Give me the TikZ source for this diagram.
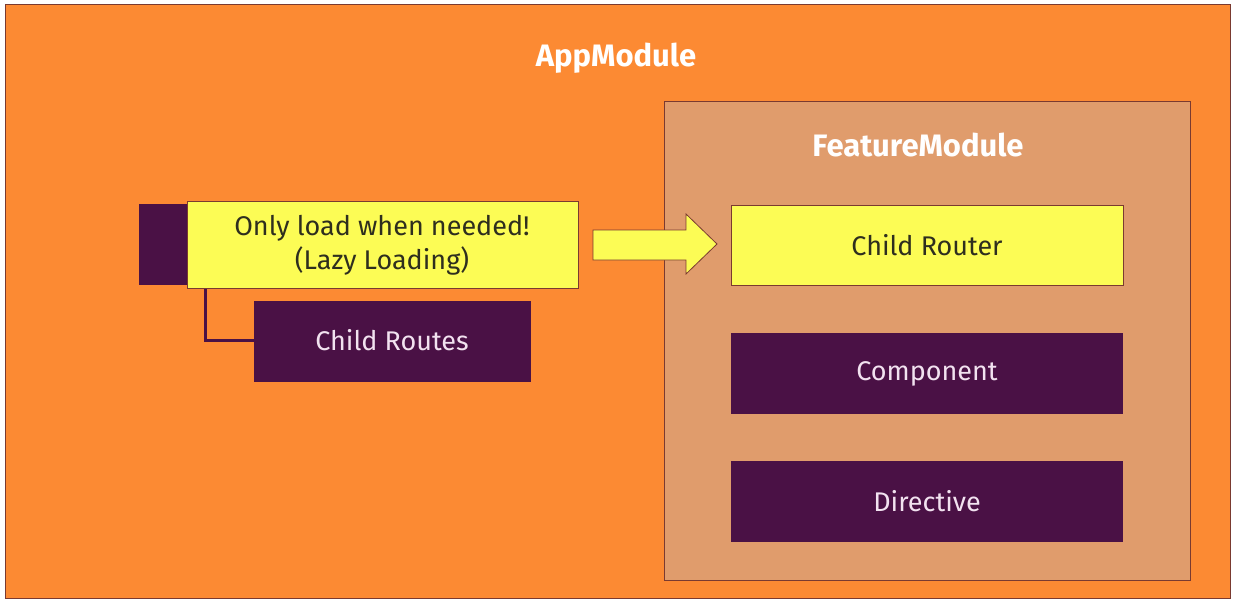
\documentclass[tikz,border=0pt]{standalone}
\usepackage{fontspec}
\setmainfont{Fira Sans}
\definecolor{appor}{HTML}{FC8A33}
\definecolor{featbg}{HTML}{E09C6C}
\definecolor{purp}{HTML}{4A1145}
\definecolor{yel}{HTML}{FCFC55}
\definecolor{edge}{HTML}{7A3A30}
\definecolor{ytext}{HTML}{2E2E1E}
\definecolor{ptext}{HTML}{F2E2F0}
\tikzset{
  pbox/.style={fill=purp, draw=none},
  ybox/.style={fill=yel, draw=edge, line width=0.8pt},
  ptxt/.style={text=ptext, font=\fontsize{27}{34}\selectfont},
  ytxt/.style={text=ytext, font=\fontsize{27}{34}\selectfont},
  title/.style={text=white, font=\bfseries\fontsize{31}{36}\selectfont},
}
\begin{document}
\begin{tikzpicture}[x=1pt,y=-1pt]
\useasboundingbox (0,0) rectangle (1238,603);
\fill[white] (0,0) rectangle (1238,603);
\draw[fill=appor, draw=edge, line width=1pt] (5,4) rectangle (1230,598);
\node[title] (app) at (616,58) {AppModule};
\draw[fill=featbg, draw=edge, line width=1pt] (664,101) rectangle (1190,580);
\node[title] (feat) at (918,145) {FeatureModule};
% feature items
\path[ybox] (731,205) rectangle (1123,285);
\node[ytxt] (router) at (927,245) {Child Router};
\path[pbox] (731,333) rectangle (1123,414);
\node[ptxt] (comp) at (927,374) {Component};
\path[pbox] (731,461) rectangle (1123,542);
\node[ptxt] (dir) at (927,501) {Directive};
% left side
\fill[purp] (139,204) rectangle (187,285);
\draw[purp, line width=3pt] (205,288) -- (205,340) -- (256,340);
\path[pbox] (254,301) rectangle (531,382);
\node[ptxt] (routes) at (392,340) {Child Routes};
\path[ybox] (187,201) rectangle (578,288);
\node[ytxt, align=center] (lazy) at (382,245) {Only load when needed!\\(Lazy Loading)};
% arrow
\draw[fill=yel, draw=edge, line width=0.8pt, line join=miter]
  (593,230) -- (686,230) -- (686,214) -- (717,244) -- (686,274) -- (686,260) -- (593,260) -- cycle;
\end{tikzpicture}
\end{document}
